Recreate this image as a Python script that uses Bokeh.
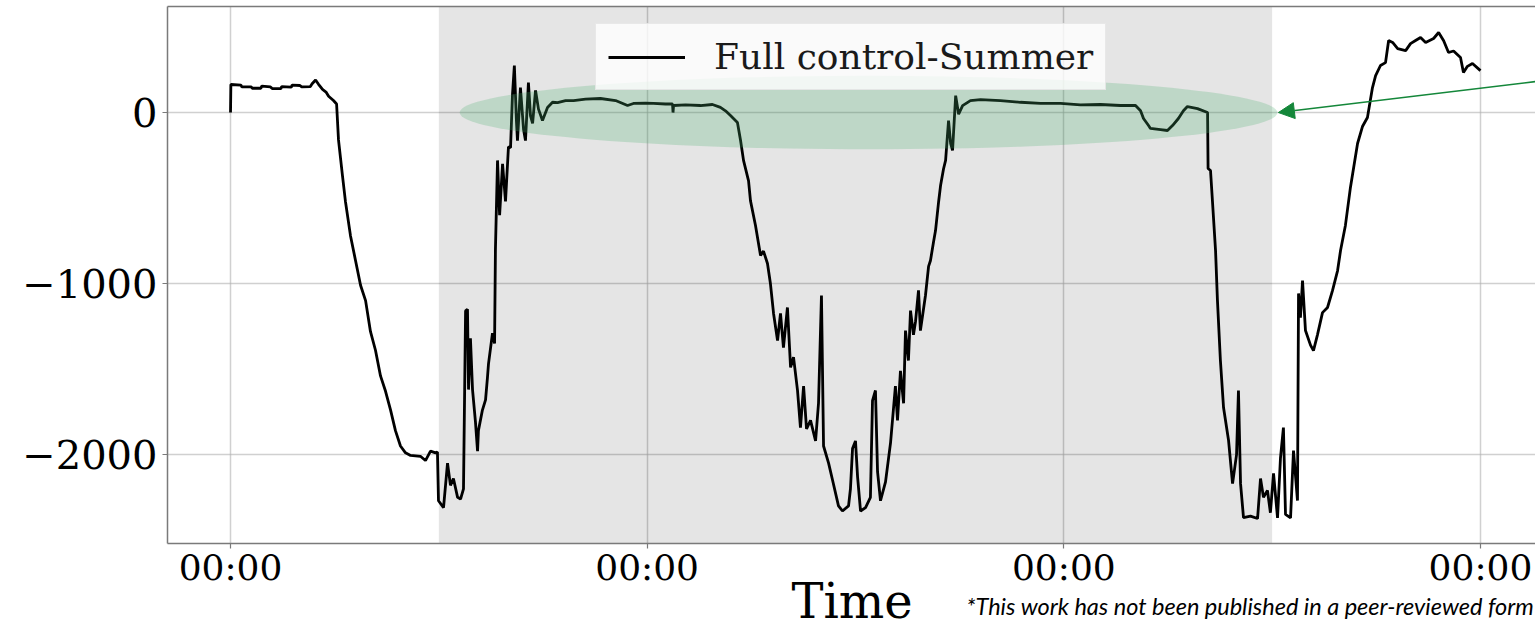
from bokeh.plotting import figure
from bokeh.models import (Range1d, FixedTicker, LinearAxis, Arrow,
                          NormalHead, BoxAnnotation)
from bokeh.embed import file_html
from bokeh.resources import INLINE

# ---------------- data ----------------
# time in hours from the first midnight, power value
day1_time = [0.00, 0.02, 0.60, 0.65, 1.20, 1.25, 1.75, 1.80, 2.30, 2.40, 2.90, 2.95,
             3.50, 3.55, 4.00, 4.10, 4.60, 4.70, 4.90, 5.07, 5.30, 5.50, 5.65, 5.93,
             6.11, 6.22, 6.45, 6.62, 6.91, 7.20, 7.49, 7.78, 8.06, 8.35, 8.64, 8.93,
             9.22, 9.50, 9.79, 10.08, 10.37, 10.94, 11.23, 11.52, 11.81, 11.92,
             11.98, 12.27, 12.50, 12.67, 12.84, 13.08, 13.25, 13.42, 13.54, 13.65,
             13.71, 13.82, 13.94, 14.11, 14.23, 14.28, 14.51, 14.69, 14.80, 14.86,
             15.09, 15.21, 15.26, 15.38, 15.50, 15.67, 15.84, 16.01, 16.13, 16.24,
             16.35, 16.47, 16.53, 16.70, 16.88, 16.99, 17.16, 17.28, 17.40, 17.57,
             17.74, 17.97, 18.26, 18.55, 18.84, 19.30, 19.76, 20.45, 21.31, 22.18,
             22.87, 23.21, 23.90]
day1_power = [0, 164, 160, 150, 150, 142, 142, 155, 150, 140, 140, 152,
              148, 160, 158, 150, 152, 168, 190, 165, 135, 120, 95, 70,
              50, -160, -370, -520, -720, -865, -1010, -1100, -1280, -1390, -1540, -1630,
              -1740, -1860, -1950, -1990, -2005, -2010, -2035, -1980, -1990, -1985,
              -2270, -2310, -2050, -2180, -2140, -2250, -2260, -2200, -1160, -1150,
              -1620, -1320, -1620, -1810, -1980, -1860, -1740, -1680, -1550, -1470,
              -1290, -1350, -800, -280, -600, -300, -520, -200, -205, 100,
              275, -50, -165, 146, -100, -164, 175, -20, -64, 129,
              20, -47, 29, 60, 58, 70, 70, 78, 82, 70,
              41, 53, 55]

day2_time = [24.36, 25.06, 25.46, 25.49, 25.52, 26.21, 27.07, 27.76, 28.22, 28.51,
             28.80, 29.20, 29.38, 29.55, 29.84, 29.95, 30.24, 30.53, 30.70, 30.93,
             31.10, 31.28, 31.51, 31.68, 31.85, 32.08, 32.26, 32.43, 32.66, 32.83,
             33.01, 33.18, 33.41, 33.70, 33.87, 34.04, 34.16, 34.45, 34.68, 35.02,
             35.25, 35.60, 35.71, 35.83, 36.00, 36.12, 36.29, 36.58, 36.86, 36.98,
             37.15, 37.27, 37.44, 37.73, 38.02, 38.30, 38.42, 38.59, 38.77, 38.88,
             39.05, 39.17, 39.34, 39.46, 39.63, 39.74, 40.03, 40.21, 40.32, 40.49,
             40.61, 40.79, 40.90, 41.07, 41.19, 41.36, 41.48, 41.59, 41.77, 41.94,
             42.17, 42.62, 43.20, 44.35, 45.50, 46.66, 47.81]
day2_power = [53, 50, 50, 0, 41, 45, 41, 47, 30, 10,
              -18, -58, -164, -280, -400, -515, -660, -836, -810, -883,
              -1000, -1175, -1333, -1175, -1374, -1140, -1490, -1430, -1625, -1842,
              -1600, -1850, -1800, -1920, -1700, -1070, -1950, -2050, -2150, -2300,
              -2330, -2300, -2200, -1965, -1920, -2130, -2330, -2310, -2250, -1685,
              -1625, -2100, -2270, -2160, -1930, -1600, -1800, -1510, -1700, -1275,
              -1450, -1158, -1300, -1220, -1040, -1275, -1070, -900, -865, -760,
              -690, -520, -427, -330, -280, -47, -180, -222, 99, -10,
              40, 70, 75, 70, 60, 53, 53]

day3_time = [48.96, 50.11, 51.26, 52.13, 52.42, 52.59, 52.88, 52.99, 53.57, 53.97,
             54.26, 54.60, 54.89, 55.12, 55.70, 56.28, 56.31, 56.45, 56.56, 56.74,
             56.85, 57.02, 57.20, 57.49, 57.72, 57.95, 58.06, 58.18, 58.35, 58.75,
             59.16, 59.33, 59.50, 59.73, 59.90, 60.08, 60.31, 60.48, 60.65, 60.77,
             61.06, 61.23, 61.46, 61.52, 61.63, 61.75, 61.92, 62.21, 62.38, 62.61,
             62.90, 63.19, 63.48, 63.77, 63.94, 64.22, 64.51, 64.92, 65.21, 65.49,
             65.78, 65.96, 66.24, 66.53, 66.71, 66.94, 67.23, 67.69, 67.97, 68.26,
             68.55, 68.84, 69.30, 69.59, 69.88, 70.16, 70.45, 70.85, 71.02, 71.25,
             71.54, 72.00]
day3_power = [45, 47, 41, 41, 10, -35, -76, -93, -100, -105,
              -76, -35, 10, 35, 23, 0, -327, -339, -515, -807,
              -1100, -1450, -1725, -1918, -2170, -2000, -1625, -2170, -2368, -2360,
              -2374, -2140, -2250, -2210, -2340, -2110, -2370, -2020, -1842, -2350,
              -2370, -1977, -2269, -1058, -1200, -982, -1275, -1360, -1392, -1300,
              -1170, -1140, -1040, -924, -807, -660, -438, -181, -80, -29,
              146, 216, 275, 292, 421, 410, 374, 362, 403, 421,
              439, 410, 433, 468, 420, 351, 360, 322, 234, 270,
              287, 245]

x_tick_hours = [0, 24, 48, 72]
x_tick_labels = ["00:00", "00:00", "00:00", "00:00"]
y_tick_values = [-2000, -1000, 0]
y_tick_labels = ["\u22122000", "\u22121000", "0"]
series_name = "Full control-Summer"
x_title = "Time"
# visible part of the footnote (the reference cuts it at the right edge)
footnote = "*This work has not been published in a peer-reviewed form"

time_h = day1_time + day2_time + day3_time
power = day1_power + day2_power + day3_power

# ---------------- figure ----------------
AXIS_GRAY = "#7a7a7a"
GREEN = "#14873a"
W, H = 1535, 632

p = figure(width=W, height=H,
           x_range=Range1d(-3.63, 75.17), y_range=Range1d(-2520, 620),
           output_backend="svg", toolbar_location=None,
           min_border_left=167, min_border_right=0,
           min_border_top=6, min_border_bottom=H - 543,
           outline_line_color=None,
           background_fill_color="white", border_fill_color="white")

xax = p.below[0]
yax = p.left[0]

xax.ticker = FixedTicker(ticks=x_tick_hours)
xax.major_label_overrides = {h: lab for h, lab in zip(x_tick_hours, x_tick_labels)}
yax.ticker = FixedTicker(ticks=y_tick_values)
yax.major_label_overrides = {v: lab for v, lab in zip(y_tick_values, y_tick_labels)}

for ax in (xax, yax):
    ax.axis_line_color = AXIS_GRAY
    ax.axis_line_width = 1.5
    ax.major_tick_line_color = AXIS_GRAY
    ax.major_tick_line_width = 1.2
    ax.major_tick_out = 5
    ax.major_tick_in = 0
    ax.minor_tick_out = 0
    ax.minor_tick_in = 0
    ax.major_label_text_font = "DejaVu Serif"
    ax.major_label_text_color = "black"

yax.major_label_text_font_size = "40px"
yax.major_label_standoff = 5
xax.major_label_text_font_size = "36px"
xax.major_label_standoff = -2


def text_axis(tick, text, font, size, style, standoff):
    """An invisible bottom axis whose single tick label is used as a text line."""
    return LinearAxis(ticker=FixedTicker(ticks=[tick]),
                      major_label_overrides={tick: text},
                      major_label_text_font=font, major_label_text_font_style=style,
                      major_label_text_font_size=size, major_label_text_color="black",
                      major_label_standoff=standoff,
                      axis_line_color=None, major_tick_line_color=None,
                      minor_tick_line_color=None, major_tick_out=0, major_tick_in=0,
                      minor_tick_out=0, minor_tick_in=0)


# axis title "Time" centred under the frame, then the footnote line
p.add_layout(text_axis(35.8, x_title, "DejaVu Serif", "48px", "normal", -18), "below")
p.add_layout(text_axis(58.9, footnote, "Lato", "23.5px", "italic", -40), "below")

# top frame line via an empty axis
top_axis = LinearAxis(ticker=FixedTicker(ticks=[]), major_label_text_font_size="0px",
                      major_tick_out=0, major_tick_in=0, minor_tick_out=0, minor_tick_in=0,
                      major_label_standoff=0, axis_line_color=AXIS_GRAY, axis_line_width=1.5)
p.add_layout(top_axis, "above")

# grid
p.xgrid.ticker = FixedTicker(ticks=x_tick_hours)
p.ygrid.ticker = FixedTicker(ticks=y_tick_values)
for g in (p.xgrid[0], p.ygrid[0]):
    g.grid_line_color = "#b0b0b0"
    g.grid_line_alpha = 0.6
    g.grid_line_width = 1.5

# shaded span (noon day 1 to noon day 3)
shade = BoxAnnotation(left=12, right=60, fill_color="black", fill_alpha=0.1,
                      line_color=None, level="underlay")
p.add_layout(shade)

# series
p.line(time_h, power, line_color="black", line_width=2.8, legend_label=series_name)

# highlight ellipse
p.ellipse(x=[36.75], y=[0], width=[47.1], height=[430],
          fill_color="#4caf6e", fill_alpha=0.25, line_color=None)

# arrow pointing at the ellipse
p.add_layout(Arrow(end=NormalHead(size=16, fill_color=GREEN, line_color=GREEN, line_width=1),
                   x_start=75.17, y_start=181, x_end=60.36, y_end=0,
                   line_color=GREEN, line_width=1.6))

# legend
lg = p.legend[0]
lg.location = (428, 453)
lg.label_text_font = "DejaVu Serif"
lg.label_text_font_size = "36px"
lg.label_text_color = "#1a1a1a"
lg.glyph_width = 77
lg.glyph_height = 36
lg.label_height = 36
lg.label_standoff = 29
lg.padding = 12
lg.margin = 0
lg.spacing = 0
lg.background_fill_color = "white"
lg.background_fill_alpha = 0.8
lg.border_line_color = "#d6d6d6"
lg.border_line_width = 1

open("out.html", "w").write(file_html(p, INLINE))
